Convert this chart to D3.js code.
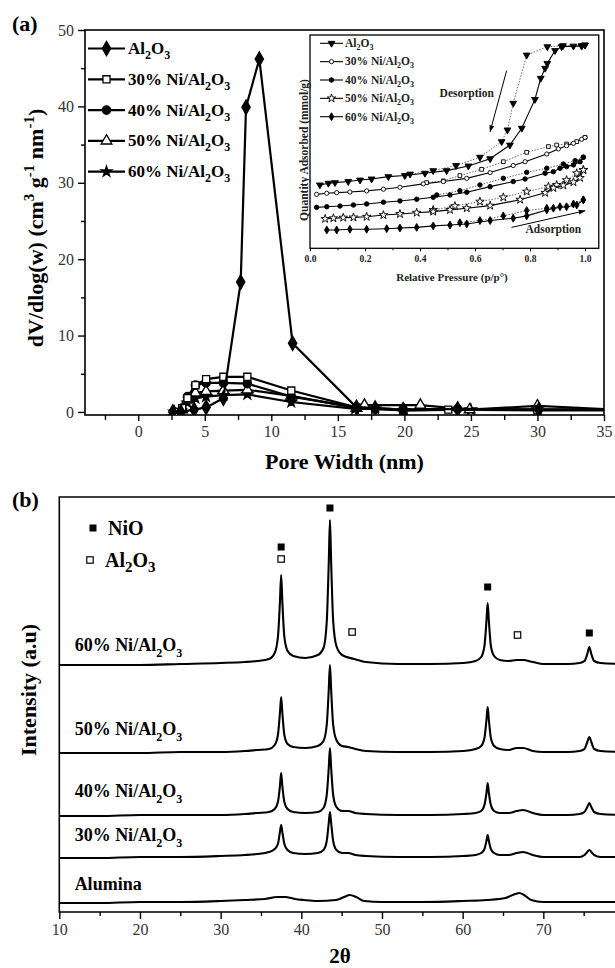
<!DOCTYPE html>
<html><head><meta charset="utf-8">
<script src="https://cdn.jsdelivr.net/npm/d3@7"></script>
<style>
html,body{margin:0;padding:0;background:#fff;}
svg{display:block;}
</style></head><body>
<svg id="fig" width="615" height="968"></svg>
<script>
// ---------- (a) pore size distribution: dV/dlog(w) vs pore width ----------
const poreTicks = [0, 5, 10, 15, 20, 25, 30, 35];
const poreMinor = [-2.5, 2.5, 7.5, 12.5, 17.5, 22.5, 27.5, 32.5];
const dvTicks = [0, 10, 20, 30, 40, 50];
const dvMinor = [5, 15, 25, 35, 45];

const psdNames = ["Al2O3", "30% Ni/Al2O3", "40% Ni/Al2O3", "50% Ni/Al2O3", "60% Ni/Al2O3"];
const wAl  = [2.6, 3.2, 4.2, 5.1, 6.4, 7.7, 8.1, 9.1, 11.6, 16.4, 17.8, 19.9, 24.0, 30.1, 36];
const dvAl = [0, 0, 0.3, 0.6, 1.8, 17, 39.9, 46.2, 9.0, 0.6, 0.5, 0.3, 0.4, 0.3, 0.3];
const w30  = [2.7, 3.3, 3.7, 4.3, 5.1, 6.4, 8.2, 11.5, 16.4, 17.8, 19.9, 23.3, 30.0, 36];
const dv30 = [0, 0.5, 1.8, 3.5, 4.3, 4.6, 4.6, 2.8, 0.6, 0.4, 0.2, 0.3, 0.2, 0.2];
const w40  = [2.7, 3.3, 3.7, 4.3, 5.1, 6.4, 8.2, 11.5, 16.4, 17.8, 19.9, 24.0, 30.0, 36];
const dv40 = [0, 0.3, 2.0, 3.5, 3.8, 3.8, 3.7, 2.0, 0.6, 0.5, 0.3, 0.4, 0.3, 0.3];
const w50  = [2.7, 3.3, 3.7, 4.3, 5.1, 6.4, 8.2, 11.5, 16.4, 17.0, 21.2, 24.9, 30.0, 36];
const dv50 = [0, 0.3, 1.6, 2.5, 2.7, 2.8, 2.9, 2.1, 0.5, 0.9, 0.9, 0.3, 0.8, 0.3];
const w60  = [2.7, 3.2, 3.7, 4.3, 5.1, 6.4, 8.2, 11.5, 16.3, 17.8, 20.0, 25.0, 30.0, 36];
const dv60 = [0, 0.2, 1.2, 1.8, 2.0, 2.2, 2.3, 1.3, 0.4, 0.4, 0.2, 0.3, 0.3, 0.3];

// ---------- (a) inset: N2 isotherms (adsorption / desorption) ----------
const isoNames = ["Al2O3", "30% Ni/Al2O3", "40% Ni/Al2O3", "50% Ni/Al2O3", "60% Ni/Al2O3"];
const rpTicks = [0.0, 0.2, 0.4, 0.6, 0.8, 1.0];
const rpMinor = [0.1, 0.3, 0.5, 0.7, 0.9];
const adsPAl = [0.036,0.067,0.091,0.139,0.182,0.224,0.285,0.345,0.418,0.497,0.576,0.655,0.727,0.770,0.818,0.839,0.855,0.863,0.891,0.915,0.958,0.988,1.0];
const adsQAl = [2.97,3.05,3.08,3.13,3.20,3.25,3.36,3.41,3.52,3.64,3.86,4.20,4.84,5.63,6.98,7.97,8.44,8.67,9.27,9.45,9.48,9.48,9.53];
const desPAl = [1.0,0.988,0.92,0.863,0.788,0.739,0.718,0.697,0.618,0.531,0.448,0.364];
const desQAl = [9.53,9.50,9.50,9.45,9.06,6.80,5.55,5.00,4.27,3.88,3.64,3.48];
const adsP30 = [0.024,0.061,0.097,0.145,0.206,0.267,0.327,0.412,0.485,0.570,0.655,0.739,0.782,0.861,0.903,0.933,0.958,0.988,1.0];
const adsQ30 = [2.53,2.58,2.61,2.64,2.69,2.77,2.86,3.02,3.13,3.28,3.55,3.88,4.06,4.42,4.66,4.81,4.92,5.11,5.20];
const desP30 = [1.0,0.97,0.933,0.897,0.867,0.788,0.703,0.624,0.545,0.485,0.424];
const desQ30 = [5.20,5.00,4.89,4.84,4.77,4.50,4.06,3.70,3.41,3.16,3.08];
const adsP40 = [0.024,0.061,0.109,0.158,0.206,0.267,0.327,0.388,0.448,0.509,0.570,0.655,0.739,0.782,0.855,0.885,0.909,0.933,0.958,0.982,0.994];
const adsQ40 = [1.92,1.95,1.98,2.03,2.08,2.16,2.22,2.30,2.39,2.50,2.63,2.89,3.13,3.25,3.52,3.59,3.75,3.83,3.91,4.06,4.27];
const desP40 = [0.994,0.964,0.921,0.861,0.788,0.703,0.618,0.545,0.461];
const desQ40 = [4.27,4.11,3.95,3.75,3.56,3.28,2.97,2.70,2.50];
const adsP50 = [0.055,0.085,0.121,0.158,0.206,0.267,0.327,0.388,0.448,0.509,0.570,0.655,0.764,0.855,0.885,0.921,0.958,0.982,0.994];
const adsQ50 = [1.38,1.41,1.44,1.45,1.48,1.56,1.61,1.67,1.72,1.80,1.88,2.00,2.28,2.60,2.83,2.95,3.10,3.30,3.67];
const desP50 = [0.994,0.97,0.933,0.897,0.867,0.788,0.703,0.618,0.527,0.448];
const desQ50 = [3.67,3.52,3.20,2.97,2.89,2.66,2.39,2.19,1.98,1.80];
const adsP60 = [0.061,0.097,0.145,0.206,0.279,0.327,0.388,0.448,0.509,0.570,0.655,0.739,0.788,0.861,0.885,0.933,0.970,0.994];
const adsQ60 = [0.86,0.86,0.89,0.89,0.92,0.95,0.98,1.05,1.09,1.14,1.30,1.41,1.52,1.80,1.88,1.95,2.03,2.27];
const desP60 = [0.994,0.958,0.909,0.861,0.788,0.703,0.618,0.545];
const desQ60 = [2.27,2.08,1.95,1.88,1.77,1.52,1.30,1.20];

// ---------- (b) XRD patterns (2θ, intensity a.u., stacked) ----------
const tthTicks = [10, 20, 30, 40, 50, 60, 70];
const tthMinor = [15, 25, 35, 45, 55, 65, 75];
const xrdNames = ["60% Ni/Al2O3", "50% Ni/Al2O3", "40% Ni/Al2O3", "30% Ni/Al2O3", "Alumina"];
const xrd60 = [[10,247],[15,247],[20,247],[25,248],[30,249],[33,250],
  [34.5,251],[36.0,253],[36.7,259],[37.1,275],[37.35,310],[37.5,337],[37.65,310],[37.9,275],[38.3,261],[39.0,256],[40.5,254],
  [42.05,257],[42.75,264],[43.15,290],[43.4,349],[43.55,392],[43.7,349],[43.95,291],[44.35,266],[45.05,257],[46.55,253],
  [48,250],[52,248],[56,248],[60.1,249],[61.6,251],[62.3,255],[62.7,266],[62.95,291],[63.1,309],[63.25,291],[63.5,266],[63.9,256],[64.6,252],[65.7,251],[66.7,252],[67.5,252],[68.7,250],[70,248],[73,248],
  [74.5,249],[75.1,251],[75.45,258],[75.7,265],[75.95,258],[76.3,251],[77.1,249],[80,248]];
const xrd50 = [[10,159],[15,159],[20,159],[25,160],[30,160],[33,161],
  [34.5,162],[36.0,163],[36.7,167],[37.1,177],[37.35,199],[37.5,215],[37.65,199],[37.9,177],[38.3,168],[39.0,165],[40.5,164],
  [42.05,166],[42.75,171],[43.15,187],[43.4,222],[43.55,247],[43.7,222],[43.95,187],[44.35,172],[45.05,166],[45.8,165],[46.7,163],
  [48,161],[52,160],[56,160],[60.1,161],[61.6,163],[62.3,166],[62.7,174],[62.95,192],[63.1,205],[63.25,192],[63.5,174],[63.9,166],[64.6,163],[65.7,162],[66.7,164],[67.5,164],[68.7,161],[70,160],[73,160],
  [74.5,161],[75.1,163],[75.45,170],[75.7,175],[75.95,170],[76.3,163],[77.1,161],[80,160]];
const xrd40 = [[10,96],[15,96],[20,97],[25,97],[30,97],[33,98],
  [34.5,99],[36.0,100],[36.7,103],[37.1,110],[37.35,126],[37.5,139],[37.65,126],[37.9,110],[38.3,103],[39.0,100],[40.5,99],
  [42.05,100],[42.75,104],[43.15,117],[43.4,144],[43.55,164],[43.7,144],[43.95,117],[44.35,105],[45.05,101],[45.8,101],[46.7,99],
  [48,98],[52,97],[56,97],[60.1,98],[61.6,99],[62.3,101],[62.7,107],[62.95,119],[63.1,129],[63.25,119],[63.5,107],[63.9,101],[64.6,99],[65.7,99],[66.7,101],[67.5,102],[68.7,99],[70,97],[73,97],
  [74.5,98],[75.1,100],[75.45,105],[75.7,109],[75.95,105],[76.3,100],[77.1,98],[80,97]];
const xrd30 = [[10,54],[15,54],[20,55],[25,55],[30,56],[33,57],
  [34.5,58],[36.0,60],[36.7,63],[37.1,68],[37.35,80],[37.5,87],[37.65,80],[37.9,68],[38.3,62],[39.0,59],[40.5,58],
  [42.05,59],[42.75,62],[43.15,71],[43.4,89],[43.55,100],[43.7,89],[43.95,71],[44.35,62],[45.05,59],[45.8,59],[46.7,57],
  [48,56],[52,55],[56,55],[60.1,56],[61.6,57],[62.3,59],[62.7,63],[62.95,71],[63.1,77],[63.25,71],[63.5,63],[63.9,59],[64.6,57],[65.7,57],[66.7,59],[67.5,60],[68.7,57],[70,55],[73,55],
  [74.5,55],[75.1,57],[75.45,60],[75.7,62],[75.95,60],[76.3,57],[77.1,55],[80,55]];
const xrdAlumina = [[10,9],[15,9],[20,10],[25,10],[30,11],[33,12],[35.5,13],[37,15],[38,15],[39.2,13],[40.3,12],[42,11],
  [44.3,12],[45.3,15],[46,17],[46.8,15],[47.8,11],[50,10],[55,10],[60,11],[63,12],[65.3,14],[66.5,18],[67,19],[67.6,17],[68.5,12],[70,10],[75,10],[80,10]];
const xrdLabelAt = [261, 177, 115, 71, 22];       // intensity level of each sample's name
const nioPeaks = [[37.5,365],[43.55,404],[63.1,325],[75.7,279]];
const aluPeaks = [[37.5,353],[46.3,280],[66.8,277]];

// ---------------------------------------------------------------------------
const FONT = '"Liberation Serif","Times New Roman",serif';
const svg = d3.select("#fig");
svg.append("rect").attr("width", 615).attr("height", 968).attr("fill", "#fff");

// writes a formula such as "30% Ni/Al2O3" with subscript digits
function chem(t, str, shift, subSize) {
  const runs = [];
  let i = 0;
  const isSub = k => /\d/.test(str[k]) && k > 0 && /[A-Za-z]/.test(str[k - 1]);
  while (i < str.length) {
    let j = i;
    if (isSub(i)) { while (j < str.length && /\d/.test(str[j])) j++; runs.push({ t: str.slice(i, j), sub: true }); }
    else { j = i + 1; while (j < str.length && !isSub(j)) j++; runs.push({ t: str.slice(i, j), sub: false }); }
    i = j;
  }
  let down = false;
  runs.forEach(r => {
    const ts = t.append("tspan").text(r.t);
    if (r.sub) { ts.attr("dy", shift).attr("font-size", subSize); down = true; }
    else if (down) { ts.attr("dy", -shift); down = false; }
  });
  return t;
}

function styleAxis(g, size, weight, color) {
  g.selectAll("text").attr("font-family", FONT).attr("font-size", size)
    .attr("font-weight", weight).attr("fill", color);
  g.selectAll("line").attr("stroke", "#000").attr("stroke-width", 1.4);
  g.select(".domain").remove();
}

// ======================= panel (a) =======================
const xA = d3.scaleLinear().domain([-4, 35]).range([85, 604]);
const yA = d3.scaleLinear().domain([-0.4, 50]).range([415, 30]);

svg.append("text").attr("x", 12).attr("y", 31).attr("font-family", FONT)
  .attr("font-weight", "bold").attr("font-size", 22).text("(a)");

const gxA = svg.append("g").attr("transform", `translate(0,${yA(-0.4)})`)
  .call(d3.axisBottom(xA).tickValues(poreTicks).tickSize(6).tickPadding(5).tickFormat(d3.format("d")));
styleAxis(gxA, 16, "normal", "#333");
const gxAm = svg.append("g").attr("transform", `translate(0,${yA(-0.4)})`)
  .call(d3.axisBottom(xA).tickValues(poreMinor).tickSize(5).tickFormat(""));
styleAxis(gxAm, 16, "normal", "#333");
const gyA = svg.append("g").attr("transform", `translate(${xA(-4)},0)`)
  .call(d3.axisLeft(yA).tickValues(dvTicks).tickSize(7).tickPadding(4).tickFormat(d3.format("d")));
styleAxis(gyA, 16, "normal", "#333");
const gyAm = svg.append("g").attr("transform", `translate(${xA(-4)},0)`)
  .call(d3.axisLeft(yA).tickValues(dvMinor).tickSize(4).tickFormat(""));
styleAxis(gyAm, 16, "normal", "#333");

// frame
svg.append("rect").attr("x", xA(-4)).attr("y", yA(50)).attr("width", xA(35) - xA(-4))
  .attr("height", yA(-0.4) - yA(50)).attr("fill", "none").attr("stroke", "#000").attr("stroke-width", 1.6);

// axis titles
svg.append("text").attr("x", (xA(-4) + xA(35)) / 2).attr("y", 469).attr("text-anchor", "middle")
  .attr("font-family", FONT).attr("font-weight", "bold").attr("font-size", 22).text("Pore Width (nm)");
{
  const t = svg.append("text").attr("transform", "translate(43,228) rotate(-90)")
    .attr("text-anchor", "middle").attr("font-family", FONT).attr("font-weight", "bold").attr("font-size", 22);
  t.append("tspan").text("dV/dlog(w) (cm");
  t.append("tspan").attr("dy", -9).attr("font-size", 15).text("3");
  t.append("tspan").attr("dy", 9).text(" g");
  t.append("tspan").attr("dy", -9).attr("font-size", 15).text("-1");
  t.append("tspan").attr("dy", 9).text(" nm");
  t.append("tspan").attr("dy", -9).attr("font-size", 15).text("-1");
  t.append("tspan").attr("dy", 9).text(")");
}

svg.append("clipPath").attr("id", "clipA").append("rect")
  .attr("x", xA(-4)).attr("y", yA(50)).attr("width", xA(35) - xA(-4)).attr("height", yA(-0.4) - yA(50));

const psd = [
  { name: psdNames[0], w: wAl, v: dvAl, sym: d3.symbolDiamond, size: 60, fill: "#000" },
  { name: psdNames[1], w: w30, v: dv30, sym: d3.symbolSquare, size: 50, fill: "#fff" },
  { name: psdNames[2], w: w40, v: dv40, sym: d3.symbolCircle, size: 55, fill: "#000" },
  { name: psdNames[3], w: w50, v: dv50, sym: d3.symbolTriangle, size: 50, fill: "#fff" },
  { name: psdNames[4], w: w60, v: dv60, sym: d3.symbolStar, size: 34, fill: "#000" }
];
const lineA = d3.line().x(d => xA(d[0])).y(d => yA(d[1]));
const gA = svg.append("g").attr("clip-path", "url(#clipA)");
psd.slice().reverse().forEach(s => {
  const pts = s.w.map((w, i) => [w, s.v[i]]);
  gA.append("path").attr("d", lineA(pts)).attr("fill", "none").attr("stroke", "#000").attr("stroke-width", 2.2);
  gA.selectAll(null).data(pts).enter().append("path")
    .attr("d", d3.symbol().type(s.sym).size(s.size))
    .attr("transform", d => `translate(${xA(d[0])},${yA(d[1])})`)
    .attr("fill", s.fill).attr("stroke", "#000").attr("stroke-width", 1.3);
});

// legend
psd.forEach((s, i) => {
  const cy = 48.5 + i * 30.8;
  svg.append("line").attr("x1", 88).attr("x2", 125).attr("y1", cy).attr("y2", cy)
    .attr("stroke", "#000").attr("stroke-width", 2.2);
  svg.append("path").attr("d", d3.symbol().type(s.sym).size(s.size)())
    .attr("transform", `translate(106.5,${cy})`).attr("fill", s.fill).attr("stroke", "#000").attr("stroke-width", 1.3);
  const t = svg.append("text").attr("x", 128).attr("y", cy + 5.5).attr("font-family", FONT)
    .attr("font-weight", "bold").attr("font-size", 17);
  chem(t, s.name, 5, 12);
});

// ---------- inset ----------
const xI = d3.scaleLinear().domain([0, 1.05]).range([310, 598.75]);
const yI = d3.scaleLinear().domain([0, 10]).range([248.3, 35]);
svg.append("rect").attr("x", 310).attr("y", 35).attr("width", 288.75).attr("height", 213.3)
  .attr("fill", "#fff").attr("stroke", "#000").attr("stroke-width", 1.3);
const gxI = svg.append("g").attr("transform", "translate(0,248.3)")
  .call(d3.axisBottom(xI).tickValues(rpTicks).tickSize(3).tickPadding(4).tickFormat(d3.format(".1f")));
styleAxis(gxI, 9.5, "bold", "#222");
gxI.selectAll("line").attr("stroke-width", 1);
const gxIm = svg.append("g").attr("transform", "translate(0,248.3)")
  .call(d3.axisBottom(xI).tickValues(rpMinor).tickSize(2).tickFormat(""));
styleAxis(gxIm, 9.5, "bold", "#222");
gxIm.selectAll("line").attr("stroke-width", 1);
svg.append("text").attr("x", 452).attr("y", 281).attr("text-anchor", "middle").attr("font-family", FONT)
  .attr("font-weight", "bold").attr("font-size", 11).attr("fill", "#222").text("Relative Pressure (p/p\u00B0)");
svg.append("text").attr("transform", "translate(308,150) rotate(-90)").attr("text-anchor", "middle")
  .attr("font-family", FONT).attr("font-weight", "bold").attr("font-size", 11.5).attr("fill", "#222")
  .text("Quantity Adsorbed (mmol/g)");

const downTri = { draw(ctx, size) { const s = Math.sqrt(size * 4 / Math.sqrt(3)); const h = s * Math.sqrt(3) / 2;
  ctx.moveTo(-s / 2, -h / 3); ctx.lineTo(s / 2, -h / 3); ctx.lineTo(0, 2 * h / 3); ctx.closePath(); } };
const iso = [
  { name: isoNames[0], ap: adsPAl, aq: adsQAl, dp: desPAl, dq: desQAl, sym: downTri, dsym: downTri, size: 20, fill: "#000" },
  { name: isoNames[1], ap: adsP30, aq: adsQ30, dp: desP30, dq: desQ30, sym: d3.symbolCircle, dsym: d3.symbolSquare, size: 14, fill: "#fff" },
  { name: isoNames[2], ap: adsP40, aq: adsQ40, dp: desP40, dq: desQ40, sym: d3.symbolCircle, dsym: d3.symbolCircle, size: 16, fill: "#000" },
  { name: isoNames[3], ap: adsP50, aq: adsQ50, dp: desP50, dq: desQ50, sym: d3.symbolStar, dsym: d3.symbolStar, size: 22, fill: "#fff" },
  { name: isoNames[4], ap: adsP60, aq: adsQ60, dp: desP60, dq: desQ60, sym: d3.symbolDiamond, dsym: d3.symbolDiamond, size: 18, fill: "#000" }
];
const lineI = d3.line().x(d => xI(d[0])).y(d => yI(d[1]));
iso.forEach(s => {
  const ads = s.ap.map((p, i) => [p, s.aq[i]]);
  const des = s.dp.map((p, i) => [p, s.dq[i]]);
  svg.append("path").attr("d", lineI(des)).attr("fill", "none").attr("stroke", "#666")
    .attr("stroke-width", 1).attr("stroke-dasharray", "1.5,1.5");
  svg.append("path").attr("d", lineI(ads)).attr("fill", "none").attr("stroke", "#000").attr("stroke-width", 1.1);
  [[des, s.dsym], [ads, s.sym]].forEach(([pts, sym]) => {
    svg.selectAll(null).data(pts).enter().append("path")
      .attr("d", d3.symbol().type(sym).size(s.size))
      .attr("transform", d => `translate(${xI(d[0])},${yI(d[1])})`)
      .attr("fill", s.fill).attr("stroke", "#000").attr("stroke-width", 0.9);
  });
});
iso.forEach((s, i) => {
  const cy = 43.3 + i * 18.35;
  svg.append("line").attr("x1", 320).attr("x2", 343).attr("y1", cy).attr("y2", cy).attr("stroke", "#000").attr("stroke-width", 1.1);
  svg.append("path").attr("d", d3.symbol().type(s.sym).size(s.size)()).attr("transform", `translate(331.5,${cy})`)
    .attr("fill", s.fill).attr("stroke", "#000").attr("stroke-width", 0.9);
  const t = svg.append("text").attr("x", 345).attr("y", cy + 3.8).attr("font-family", FONT)
    .attr("font-weight", "bold").attr("font-size", 11.5).attr("fill", "#222");
  chem(t, s.name, 3, 8);
});
// arrows
const defs = svg.append("defs");
defs.append("marker").attr("id", "arrowhead").attr("viewBox", "0 0 10 10").attr("refX", 9).attr("refY", 5)
  .attr("markerWidth", 7).attr("markerHeight", 7).attr("orient", "auto")
  .append("path").attr("d", "M0,1.5 L10,5 L0,8.5 Z").attr("fill", "#000");
svg.append("line").attr("x1", xI(0.715)).attr("y1", yI(8.33)).attr("x2", xI(0.655)).attr("y2", yI(5.47))
  .attr("stroke", "#000").attr("stroke-width", 1).attr("marker-end", "url(#arrowhead)");
svg.append("line").attr("x1", xI(0.733)).attr("y1", yI(0.98)).attr("x2", xI(1.0)).attr("y2", yI(1.76))
  .attr("stroke", "#000").attr("stroke-width", 1).attr("marker-end", "url(#arrowhead)");
svg.append("text").attr("x", xI(0.57)).attr("y", yI(7.1)).attr("text-anchor", "middle").attr("font-family", FONT)
  .attr("font-weight", "bold").attr("font-size", 11.5).attr("fill", "#222").text("Desorption");
svg.append("text").attr("x", xI(0.885)).attr("y", yI(0.7)).attr("text-anchor", "middle").attr("font-family", FONT)
  .attr("font-weight", "bold").attr("font-size", 11.5).attr("fill", "#222").text("Adsorption");

// ======================= panel (b) =======================
const xB = d3.scaleLinear().domain([10, 80]).range([59.3, 624]);
const yB = d3.scaleLinear().domain([0, 415]).range([912, 497]);

svg.append("text").attr("x", 12).attr("y", 507).attr("font-family", FONT)
  .attr("font-weight", "bold").attr("font-size", 22).text("(b)");

const gxB = svg.append("g").attr("transform", "translate(0,912)")
  .call(d3.axisBottom(xB).tickValues(tthTicks).tickSize(7).tickPadding(5).tickFormat(d3.format("d")));
styleAxis(gxB, 16, "normal", "#333");
const gxBm = svg.append("g").attr("transform", "translate(0,912)")
  .call(d3.axisBottom(xB).tickValues(tthMinor).tickSize(4).tickFormat(""));
styleAxis(gxBm, 16, "normal", "#333");
svg.append("path").attr("d", `M${xB(80)},${yB(415)}H${xB(10)}V${yB(0)}H${xB(80)}`)
  .attr("fill", "none").attr("stroke", "#000").attr("stroke-width", 1.6);

svg.append("text").attr("x", 340).attr("y", 963).attr("text-anchor", "middle").attr("font-family", FONT)
  .attr("font-weight", "bold").attr("font-size", 21).text("2\u03B8");
svg.append("text").attr("transform", `translate(36,${yB(222)}) rotate(-90)`).attr("text-anchor", "middle")
  .attr("font-family", FONT).attr("font-weight", "bold").attr("font-size", 22).text("Intensity (a.u)");

const lineB = d3.line().x(d => xB(d[0])).y(d => yB(d[1])).curve(d3.curveMonotoneX);
[xrd60, xrd50, xrd40, xrd30, xrdAlumina].forEach((pat, i) => {
  svg.append("path").attr("d", lineB(pat)).attr("fill", "none").attr("stroke", "#000")
    .attr("stroke-width", 2.1).attr("stroke-linejoin", "round");
  const t = svg.append("text").attr("x", xB(11.9)).attr("y", yB(xrdLabelAt[i])).attr("font-family", FONT)
    .attr("font-weight", "bold").attr("font-size", 18);
  chem(t, xrdNames[i], 6, 12);
});

// phase markers
svg.selectAll(null).data(nioPeaks).enter().append("rect")
  .attr("x", d => xB(d[0]) - 3.5).attr("y", d => yB(d[1]) - 3.5).attr("width", 7).attr("height", 7).attr("fill", "#000");
svg.selectAll(null).data(aluPeaks).enter().append("rect")
  .attr("x", d => xB(d[0]) - 3.2).attr("y", d => yB(d[1]) - 3.2).attr("width", 6.4).attr("height", 6.4)
  .attr("fill", "#fff").attr("stroke", "#000").attr("stroke-width", 1.2);

// phase legend
svg.append("rect").attr("x", 89.5).attr("y", 524.5).attr("width", 7).attr("height", 7).attr("fill", "#000");
svg.append("text").attr("x", 108).attr("y", 535).attr("font-family", FONT).attr("font-weight", "bold")
  .attr("font-size", 20).text("NiO");
svg.append("rect").attr("x", 86.8).attr("y", 556.8).attr("width", 6.4).attr("height", 6.4)
  .attr("fill", "#fff").attr("stroke", "#000").attr("stroke-width", 1.2);
chem(svg.append("text").attr("x", 105).attr("y", 567).attr("font-family", FONT).attr("font-weight", "bold")
  .attr("font-size", 20), "Al2O3", 5, 15);
</script>
</body></html>
